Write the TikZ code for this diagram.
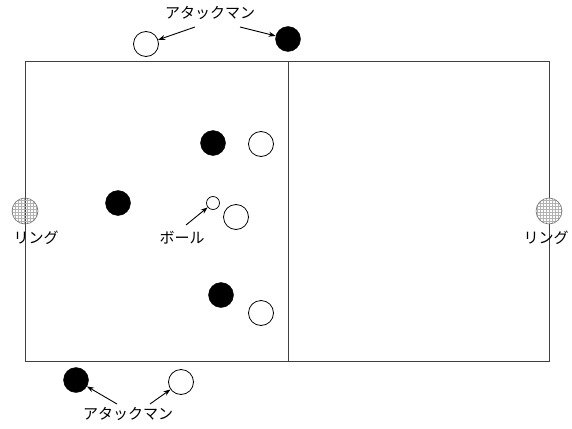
\documentclass[tikz,border=0pt]{standalone}
\usepackage{fontspec}
\newfontfamily\jp{Noto Sans CJK JP}
\usetikzlibrary{patterns,arrows.meta}
\begin{document}
\begin{tikzpicture}[x=1pt,y=-1pt,
  court/.style={draw=black!75,line width=0.9pt},
  wman/.style={circle,draw=black,line width=0.8pt,fill=white,minimum size=25pt,inner sep=0pt},
  bman/.style={circle,draw=black,fill=black,minimum size=25pt,inner sep=0pt},
  ballnode/.style={circle,draw=black,line width=0.7pt,fill=white,minimum size=13pt,inner sep=0pt},
  ring/.style={circle,draw=black!55,line width=0.6pt,fill=gray!20,pattern=grid,pattern color=gray!60,minimum size=26pt,inner sep=0pt},
  lbl/.style={font=\jp\fontsize{15}{17}\selectfont,inner sep=0pt},
  arr/.style={-{Stealth[length=7pt,width=5pt]},line width=0.9pt}]
\useasboundingbox (0,0) rectangle (572,428);
\draw[court] (25,61) rectangle (549,361);
\draw[court] (288,61) -- (288,361);
\node[ring] (rl) at (25,211) {};
\node[ring] (rr) at (549,211) {};
\node[lbl] (tl) at (36,238) {リング};
\node[lbl] (tr) at (546,238) {リング};
% players
\node[wman] (w1) at (146,44) {};
\node[bman] (b1) at (288,39) {};
\node[bman] (b2) at (213,143) {};
\node[wman] (w2) at (261,144) {};
\node[bman] (b3) at (118,203) {};
\node[ballnode] (ball) at (213,203) {};
\node[wman] (w3) at (236,217) {};
\node[bman] (b4) at (221,295) {};
\node[wman] (w4) at (261,313) {};
\node[bman] (b5) at (76,380) {};
\node[wman] (w5) at (181,382) {};
% labels
\node[lbl] (atop) at (210,13) {アタックマン};
\node[lbl] (abot) at (128,414) {アタックマン};
\node[lbl] (bl) at (182,238) {ボール};
\coordinate (a1) at (195,27);
\coordinate (a2) at (240,27);
\coordinate (a3) at (186,225);
\coordinate (a4) at (117,404);
\coordinate (a5) at (150,404);
\draw[arr] (a1) -- (w1);
\draw[arr] (a2) -- (b1);
\draw[arr] (a3) -- (ball);
\draw[arr] (a4) -- (b5);
\draw[arr] (a5) -- (w5);
\end{tikzpicture}
\end{document}
